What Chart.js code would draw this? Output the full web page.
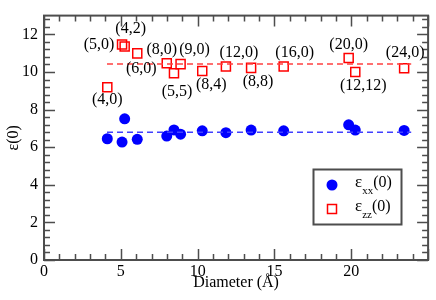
<!DOCTYPE html>
<html>
<head>
<meta charset="utf-8">
<script src="https://cdn.jsdelivr.net/npm/chart.js@4/dist/chart.umd.min.js"></script>
<style>
  html, body { margin: 0; padding: 0; background: #fff; }
  #wrap { width: 436px; height: 300px; }
</style>
</head>
<body>
<div id="wrap"><canvas id="myChart" width="436" height="300"></canvas></div>
<script>
'use strict';

// values
const diameters = [4.12, 5.08, 5.25, 6.07, 7.99, 8.46, 8.89, 10.3, 11.84, 13.48, 15.6, 19.83, 20.26, 23.44];
const tubeLabels = ['(4,0)', '(5,0)', '(4,2)', '(6,0)', '(8,0)', '(5,5)', '(9,0)', '(8,4)', '(12,0)', '(8,8)', '(16,0)', '(20,0)', '(12,12)', '(24,0)'];
const epsXX = [6.45, 6.27, 7.51, 6.42, 6.59, 6.92, 6.69, 6.87, 6.77, 6.91, 6.87, 7.19, 6.91, 6.89];
const epsZZ = [9.19, 11.46, 11.36, 10.99, 10.47, 9.93, 10.42, 10.05, 10.29, 10.22, 10.29, 10.74, 10.0, 10.2];
const avgRange = [4.1, 23.9];
const avgXX = 6.79;
const avgZZ = 10.42;
const xTicks = [0, 5, 10, 15, 20];
const yTicks = [0, 2, 4, 6, 8, 10, 12];

// label placement in pixels, relative to the square
const labelOffsets = [[0, 13], [-23, 0], [6, -18], [4, 15], [-5, -13], [3, 18], [14, -14],
    [9, 14], [13, -14], [7, 14], [11, -14], [0, -13], [8, 14], [1, -15]];

const SERIF = '"Liberation Serif", "DejaVu Serif", serif';
const FRAME = '#4d4d4d';

const toPoints = function (xs, ys) {
    const pts = [];
    for (let i = 0; i < xs.length; i++) {
        pts.push({ x: xs[i], y: ys[i] });
    }
    return pts;
};

const framePlugin = {
    id: 'frame',
    afterDatasetsDraw(chart) {
        const ctx = chart.ctx;
        const a = chart.chartArea;
        const xs = chart.scales.x;
        const ys = chart.scales.y;
        ctx.save();
        ctx.strokeStyle = FRAME;
        ctx.lineWidth = 2;
        ctx.strokeRect(a.left, a.top, a.right - a.left, a.bottom - a.top);
        ctx.lineWidth = 1.5;
        ctx.beginPath();
        for (let v = 0; v <= 25; v++) {
            const px = Math.round(xs.getPixelForValue(v)) + 0.5;
            const len = v % 5 === 0 ? 11 : 6;
            ctx.moveTo(px, a.bottom);
            ctx.lineTo(px, a.bottom - len);
            ctx.moveTo(px, a.top);
            ctx.lineTo(px, a.top + len);
        }
        for (let k = 0; k * 0.4 <= 13; k++) {
            const py = Math.round(ys.getPixelForValue(k * 0.4)) + 0.5;
            const len = k % 5 === 0 ? 11 : 6;
            ctx.moveTo(a.left, py);
            ctx.lineTo(a.left + len, py);
            ctx.moveTo(a.right, py);
            ctx.lineTo(a.right - len, py);
        }
        ctx.stroke();

        // tube labels
        ctx.fillStyle = '#000';
        ctx.font = '16px ' + SERIF;
        ctx.textAlign = 'center';
        ctx.textBaseline = 'middle';
        for (let i = 0; i < tubeLabels.length; i++) {
            const px = xs.getPixelForValue(diameters[i]) + labelOffsets[i][0];
            const py = ys.getPixelForValue(epsZZ[i]) + labelOffsets[i][1];
            ctx.fillText(tubeLabels[i], px, py);
        }

        // legend box
        const bx = 313.5, by = 169.5, bw = 88, bh = 55;
        ctx.fillStyle = '#fff';
        ctx.fillRect(bx, by, bw, bh);
        ctx.lineWidth = 2;
        ctx.strokeStyle = FRAME;
        ctx.strokeRect(bx, by, bw, bh);

        ctx.fillStyle = '#0000ff';
        ctx.beginPath();
        ctx.arc(332, 185, 5.5, 0, Math.PI * 2);
        ctx.fill();
        ctx.strokeStyle = '#ff0000';
        ctx.lineWidth = 1.5;
        ctx.strokeRect(327.5, 204.5, 9, 9);

        const entries = [['xx', 183], ['zz', 207]];
        ctx.fillStyle = '#000';
        ctx.textAlign = 'left';
        for (const e of entries) {
            let tx = 355;
            ctx.font = '17px ' + SERIF;
            ctx.fillText('\u03b5', tx, e[1]);
            tx += ctx.measureText('\u03b5').width;
            ctx.font = '11px ' + SERIF;
            ctx.fillText(e[0], tx, e[1] + 8);
            tx += ctx.measureText(e[0]).width;
            ctx.font = '16px ' + SERIF;
            ctx.fillText('(0)', tx, e[1]);
        }
        ctx.restore();
    }
};

document.addEventListener('DOMContentLoaded', function () {
    const ctx = document.getElementById('myChart').getContext('2d');
    const myChart = new Chart(ctx, {
        type: 'scatter',
        data: {
            datasets: [{
                label: 'avg zz',
                type: 'line',
                data: [{ x: avgRange[0], y: avgZZ }, { x: avgRange[1], y: avgZZ }],
                borderColor: '#ff4040',
                borderWidth: 1.5,
                borderDash: [6, 4],
                pointRadius: 0,
                fill: false
            }, {
                label: 'avg xx',
                type: 'line',
                data: [{ x: avgRange[0], y: avgXX }, { x: avgRange[1], y: avgXX }],
                borderColor: '#4040ff',
                borderWidth: 1.5,
                borderDash: [6, 4],
                pointRadius: 0,
                fill: false
            }, {
                label: 'εxx(0)',
                data: toPoints(diameters, epsXX),
                pointStyle: 'circle',
                pointRadius: 5.5,
                backgroundColor: '#0000ff',
                borderColor: '#0000ff',
                borderWidth: 0
            }, {
                label: 'εzz(0)',
                data: toPoints(diameters, epsZZ),
                pointStyle: 'rect',
                pointRadius: 6.4,
                backgroundColor: 'transparent',
                borderColor: '#ff0000',
                borderWidth: 1.5
            }]
        },
        options: {
            responsive: false,
            animation: false,
            layout: { padding: { left: 0, right: 3, top: 3, bottom: 0 } },
            plugins: {
                legend: { display: false },
                tooltip: { enabled: false }
            },
            scales: {
                x: {
                    type: 'linear',
                    min: 0,
                    max: 25,
                    afterFit(scale) { scale.height = 40; },
                    afterBuildTicks(scale) { scale.ticks = xTicks.map(v => ({ value: v })); },
                    grid: { display: false, drawTicks: false },
                    border: { display: false },
                    ticks: {
                        color: '#000',
                        padding: 2,
                        maxRotation: 0,
                        font: { family: SERIF, size: 16 }
                    },
                    title: {
                        display: true,
                        text: 'Diameter (Å)',
                        color: '#000',
                        padding: { top: 0, bottom: 8 },
                        font: { family: SERIF, size: 16 }
                    }
                },
                y: {
                    type: 'linear',
                    min: 0,
                    max: 13,
                    afterFit(scale) { scale.width = 44; },
                    afterBuildTicks(scale) { scale.ticks = yTicks.map(v => ({ value: v })); },
                    grid: { display: false, drawTicks: false },
                    border: { display: false },
                    ticks: {
                        color: '#000',
                        padding: 6,
                        font: { family: SERIF, size: 16 }
                    },
                    title: {
                        display: true,
                        text: 'ε(0)',
                        color: '#000',
                        padding: { top: 4, bottom: 0 },
                        font: { family: SERIF, size: 16 }
                    }
                }
            }
        },
        plugins: [framePlugin]
    });
});
</script>
</body>
</html>
